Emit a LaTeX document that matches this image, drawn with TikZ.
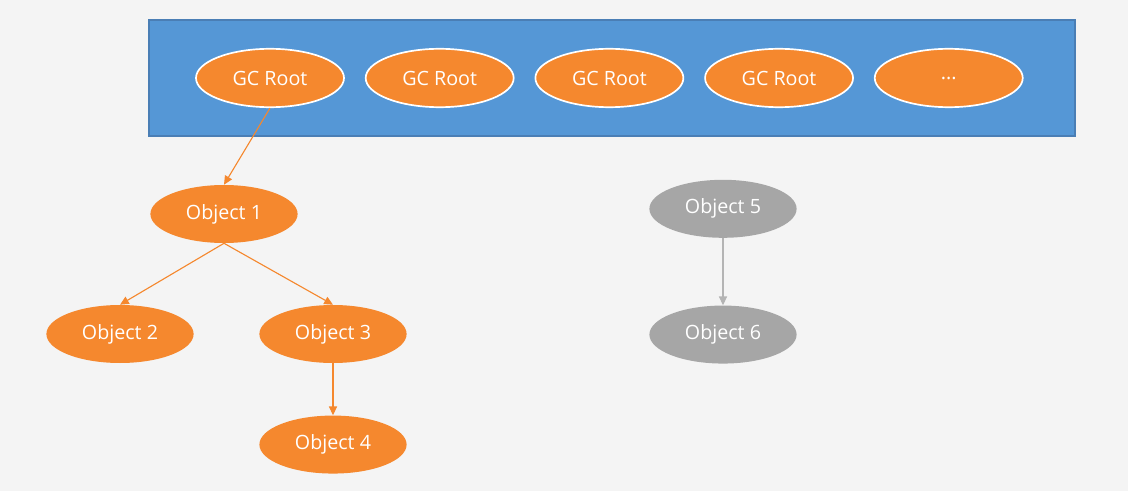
\documentclass[tikz,border=0pt]{standalone}
\usepackage{fontspec}
\setmainfont{Open Sans}
\usetikzlibrary{arrows.meta,positioning,shapes.geometric}
\definecolor{bgGray}{HTML}{F4F4F4}
\definecolor{rootBlue}{HTML}{5597D6}
\definecolor{rootEdge}{HTML}{4A7EB5}
\definecolor{objOrange}{HTML}{F5882E}
\definecolor{objGray}{HTML}{A6A6A6}
\definecolor{arrGray}{HTML}{B4B4B4}

\begin{document}
\begin{tikzpicture}[
      font=\fontsize{14}{16}\selectfont, node distance=5mm and 5mm,
      obj/.style={ellipse, fill=objOrange, text=white, inner sep=0pt,
        minimum width=3.68cm, minimum height=1.45cm},
      root/.style={obj, draw=white, line width=1.2pt,
        minimum width=3.7cm, minimum height=1.46cm},
      dead/.style={obj, fill=objGray},
      arr/.style={-{Triangle[length=2.2mm, width=2mm]}, line width=0.8pt, draw=objOrange},
      garr/.style={arr, draw=arrGray},
    ]
    \fill[bgGray] (0,0) rectangle (28.2,-12.275);
    \useasboundingbox (0,0) rectangle (28.2,-12.275);
    \node[draw=rootEdge, fill=rootBlue, line width=0.8pt, inner sep=0pt,
      minimum width=23.15cm, minimum height=2.9cm] (heap) at (15.3,-1.95) {};
    % roots
    \node[root] (gc1) at (6.75,-1.95) {GC Root};
    \node[root, right=of gc1] (gc2) {GC Root};
    \node[root, right=of gc2] (gc3) {GC Root};
    \node[root, right=of gc3] (gc4) {GC Root};
    \node[root, right=of gc4] (gc5) {...};
    % reachable
    \node[obj] (o1) at (5.6,-5.35) {Object 1};
    \node[obj] (o2) at (3.0,-8.35) {Object 2};
    \node[obj] (o3) at (8.325,-8.35) {Object 3};
    \node[obj, below=13mm of o3] (o4) {Object 4};
    % unreachable
    \node[dead] (o5) at (18.075,-5.22) {Object 5};
    \node[dead, below=16.8mm of o5] (o6) {Object 6};
    \draw[arr] (gc1.south) -- (o1.north);
    \draw[arr] (o1.south) -- (o2.north);
    \draw[arr] (o1.south) -- (o3.north);
    \draw[arr] (o3) -- (o4);
    \draw[garr] (o5) -- (o6);
  \end{tikzpicture}
\end{document}
